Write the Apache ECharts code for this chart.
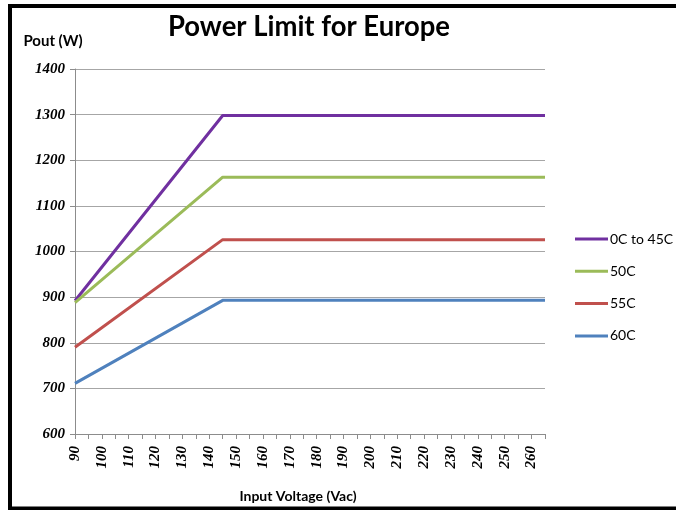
<!DOCTYPE html>
<html>
<head>
<meta charset="utf-8">
<script src="https://cdn.jsdelivr.net/npm/echarts@6/dist/echarts.min.js"></script>
<style>
  html, body { margin: 0; padding: 0; background: #fff; }
  #chart { width: 676px; height: 510px; }
</style>
</head>
<body>
<div id="chart"></div>
<script>
// ---- data ----
const chartTitle = 'Power Limit for Europe';
const xName = 'Input Voltage (Vac)';
const yName = 'Pout (W)';
const seriesNames = ['0C to 45C', '50C', '55C', '60C'];
const seriesColors = ['#7030A0', '#9BBB59', '#C0504D', '#4F81BD'];
const xPoints = [90, 145, 265];
const values0to45 = [892, 1298, 1298];
const values50 = [888, 1163, 1163];
const values55 = [790, 1026, 1026];
const values60 = [711, 893, 893];
const xTickLabels = [90, 100, 110, 120, 130, 140, 150, 160, 170, 180, 190, 200, 210, 220, 230, 240, 250, 260];
const yTickLabels = [600, 700, 800, 900, 1000, 1100, 1200, 1300, 1400];

const allValues = [values0to45, values50, values55, values60];

// measure title to fit its width
const cvs = document.createElement('canvas').getContext('2d');
const titleFont = 'bold 29px Lato';
cvs.font = titleFont;
const titleW = cvs.measureText(chartTitle).width;
const titleScale = 282 / titleW;

const chart = echarts.init(document.getElementById('chart'), null, { renderer: 'canvas' });
const gray = '#8C8C8C';
const tickFont = { fontFamily: 'Liberation Serif', fontStyle: 'italic', fontWeight: 'bold', fontSize: 15, color: '#000' };

chart.setOption({
  animation: false,
  backgroundColor: '#fff',
  grid: { left: 75, top: 69, width: 470, height: 365, containLabel: false },
  xAxis: {
    type: 'value',
    min: xTickLabels[0],
    max: 265,
    interval: 5,
    name: xName,
    nameLocation: 'middle',
    nameGap: 55,
    nameTextStyle: { fontFamily: 'Lato', fontWeight: 'bold', fontSize: 14, color: '#000', padding: [0, 24, 0, 0] },
    axisLine: { show: true, lineStyle: { color: gray, width: 1 } },
    axisTick: { show: true, length: 5, lineStyle: { color: gray } },
    axisLabel: Object.assign({
      rotate: 90,
      margin: 12,
      formatter: function (v) { return xTickLabels.indexOf(v) >= 0 ? String(v) : ''; }
    }, tickFont),
    splitLine: { show: false }
  },
  yAxis: {
    type: 'value',
    min: yTickLabels[0],
    max: yTickLabels[yTickLabels.length - 1],
    interval: 100,
    name: yName,
    nameLocation: 'end',
    nameGap: 20,
    nameTextStyle: { fontFamily: 'Lato', fontWeight: 'bold', fontSize: 15, color: '#000', align: 'center', padding: [0, 44, 0, 0] },
    axisLine: { show: true, lineStyle: { color: gray, width: 1 } },
    axisTick: { show: true, length: 5, lineStyle: { color: gray } },
    axisLabel: Object.assign({
      margin: 10,
      formatter: function (v) { return String(v); }
    }, tickFont),
    splitLine: { show: true, lineStyle: { color: '#A6A6A6', width: 1 } }
  },
  legend: {
    orient: 'vertical',
    left: 570,
    top: 227,
    itemWidth: 33,
    itemHeight: 3,
    itemGap: 18.3,
    icon: 'rect',
    data: seriesNames,
    textStyle: { fontFamily: 'Lato', fontSize: 14, color: '#000', padding: [0, 0, 0, -3] }
  },
  series: seriesNames.map(function (name, i) {
    return {
      name: name,
      type: 'line',
      data: xPoints.map(function (x, j) { return [x, allValues[i][j]]; }),
      showSymbol: false,
      symbol: 'none',
      lineStyle: { width: 3, color: seriesColors[i] },
      itemStyle: { color: seriesColors[i] },
      z: 2 + i
    };
  }),
  graphic: [
    {
      type: 'rect',
      shape: { x: 10, y: 6, width: 700, height: 502.5 },
      style: { fill: 'none', stroke: '#000', lineWidth: 4 },
      z: 100
    },
    {
      type: 'text',
      x: 168,
      y: 27,
      scaleX: titleScale,
      style: { text: chartTitle, font: titleFont, fill: '#000', textAlign: 'left', textVerticalAlign: 'middle', verticalAlign: 'middle' },
      z: 100
    }
  ]
});
</script>
</body>
</html>
